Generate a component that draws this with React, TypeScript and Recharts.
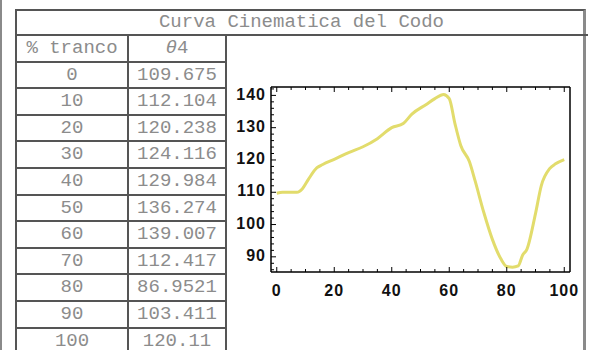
import { LineChart, Line, XAxis, YAxis } from "recharts";

// table columns
const TRANCO = [0, 10, 20, 30, 40, 50, 60, 70, 80, 90, 100];
const THETA4 = [
  "109.675", "112.104", "120.238", "124.116", "129.984", "136.274",
  "139.007", "112.417", "86.9521", "103.411", "120.11",
];

// curve
const CURVE_X = [
  0, 2, 5, 7, 9, 11, 14, 16, 20, 25, 30, 35, 40, 44, 47, 52, 55, 58, 60,
  62, 64, 67, 69, 72, 75, 78, 80, 82, 84, 85.5, 87, 90, 92, 95, 97, 100,
];
const CURVE_Y = [
  109.7, 110.0, 110.0, 110.0, 111.2, 114.0, 117.6, 118.6, 120.2, 122.3,
  124.1, 126.6, 130.0, 131.3, 134.2, 137.2, 139.0, 140.3, 139.0, 131.2,
  124.5, 119.5, 113.5, 103.8, 95.4, 89.3, 87.0, 86.8, 87.2, 90.5, 92.3,
  103.4, 112.0, 117.4, 118.8, 120.1,
];

const X_LABELS = [0, 20, 40, 60, 80, 100];
const Y_LABELS = [90, 100, 110, 120, 130, 140];
const X_TICKS = [0, 5, 10, 15, 20, 25, 30, 35, 40, 45, 50, 55, 60, 65, 70, 75, 80, 85, 90, 95, 100];
const Y_TICKS = [86, 88, 90, 92, 94, 96, 98, 100, 102, 104, 106, 108, 110, 112, 114, 116, 118, 120, 122, 124, 126, 128, 130, 132, 134, 136, 138, 140, 142];

const data = CURVE_X.map((x, i) => ({ x, y: CURVE_Y[i] }));

const MONO = "'Liberation Mono', 'Courier New', monospace";
const SANS = "'Liberation Sans', Arial, sans-serif";
const ROW_H = 26.6;

function BottomTick(props: any) {
  const { x, y, payload } = props;
  const major = X_LABELS.includes(payload.value);
  return (
    <g>
      <line x1={x} x2={x} y1={y} y2={y - (major ? 5 : 3)} stroke="#000" strokeWidth={1} />
      {major && (
        <text x={x} y={y + 20} textAnchor="middle" dominantBaseline="middle"
          fontFamily={SANS} fontWeight="bold" fontSize={16} letterSpacing={1} fill="#111">
          {payload.value}
        </text>
      )}
    </g>
  );
}

function TopTick(props: any) {
  const { x, y, payload } = props;
  const major = X_LABELS.includes(payload.value);
  return <line x1={x} x2={x} y1={y} y2={y + (major ? 5 : 3)} stroke="#000" strokeWidth={1} />;
}

function LeftTick(props: any) {
  const { x, y, payload } = props;
  const major = Y_LABELS.includes(payload.value);
  return (
    <g>
      <line x1={x} x2={x + (major ? 5 : 3)} y1={y} y2={y} stroke="#000" strokeWidth={1} />
      {major && (
        <text x={x - 5} y={y} textAnchor="end" dominantBaseline="middle"
          fontFamily={SANS} fontWeight="bold" fontSize={16} letterSpacing={1} fill="#111">
          {payload.value}
        </text>
      )}
    </g>
  );
}

function RightTick(props: any) {
  const { x, y, payload } = props;
  const major = Y_LABELS.includes(payload.value);
  return <line x1={x} x2={x - (major ? 5 : 3)} y1={y} y2={y} stroke="#000" strokeWidth={1} />;
}

const cellText: React.CSSProperties = {
  position: "absolute",
  fontFamily: MONO,
  fontSize: 19,
  color: "#8c8c8c",
  textAlign: "center",
  whiteSpace: "nowrap",
};

export default function App() {
  const rows = [{ a: "% tranco", b: "θ4" }].concat(
    TRANCO.map((t, i) => ({ a: String(t), b: THETA4[i] }))
  );
  return (
    <div style={{ position: "absolute", left: 0, top: 0, width: 594, height: 350, overflow: "hidden", background: "#fff" }}>
      {/* outer left rule */}
      <div style={{ position: "absolute", left: 0, top: 0, width: 2, height: 350, background: "#8a8a8a" }} />
      {/* table frame */}
      <div style={{ position: "absolute", left: 15, top: 9, width: 571, height: 360, borderLeft: "2px solid #555", borderTop: "2px solid #555", borderRight: "3px solid #8a8a8a", boxSizing: "border-box" }} />
      <div style={{ ...cellText, left: 15, top: 9, width: 573, height: 26, lineHeight: "27px" }}>
        Curva Cinematica del Codo
      </div>
      <div style={{ position: "absolute", left: 15, top: 34, width: 573, height: 2, background: "#555" }} />
      {/* column rules */}
      <div style={{ position: "absolute", left: 127, top: 35, width: 2, height: 320, background: "#555" }} />
      <div style={{ position: "absolute", left: 225, top: 35, width: 2, height: 320, background: "#555" }} />
      {rows.map((r, i) => {
        const top = 35 + i * ROW_H;
        return (
          <div key={i}>
            <div style={{ ...cellText, left: 17, top, width: 110, height: ROW_H, lineHeight: ROW_H + "px" }}>{r.a}</div>
            <div style={{ ...cellText, left: 129, top, width: 96, height: ROW_H, lineHeight: ROW_H + "px" }}>
              {i === 0 ? <span><i>θ</i>4</span> : r.b}
            </div>
            <div style={{ position: "absolute", left: 15, top: top + ROW_H - 1, width: 212, height: 2, background: "#555" }} />
          </div>
        );
      })}
      <div style={{ position: "absolute", left: 226, top: 62 }}>
        <LineChart width={362} height={288} data={data} margin={{ top: 24, right: 17, bottom: 48, left: 5 }}>
          <XAxis xAxisId="b" dataKey="x" type="number" domain={[-2, 102]} ticks={X_TICKS} interval={0}
            height={30} tickSize={0} tickMargin={0} tickLine={false} tick={<BottomTick />}
            axisLine={{ stroke: "#000", strokeWidth: 1.5 }} />
          <XAxis xAxisId="t" orientation="top" dataKey="x" type="number" domain={[-2, 102]} ticks={X_TICKS} interval={0}
            height={1} tickSize={0} tickMargin={0} tickLine={false} tick={<TopTick />}
            axisLine={{ stroke: "#000", strokeWidth: 1.5 }} />
          <YAxis yAxisId="l" type="number" domain={[85.3, 142.6]} ticks={Y_TICKS} interval={0}
            width={40} tickSize={0} tickMargin={0} tickLine={false} tick={<LeftTick />}
            axisLine={{ stroke: "#000", strokeWidth: 1.5 }} />
          <YAxis yAxisId="r" orientation="right" type="number" domain={[85.3, 142.6]} ticks={Y_TICKS} interval={0}
            width={1} tickSize={0} tickMargin={0} tickLine={false} tick={<RightTick />}
            axisLine={{ stroke: "#000", strokeWidth: 1.5 }} />
          <Line xAxisId="b" yAxisId="l" type="monotone" dataKey="y" stroke="#e2dc6c" strokeWidth={3}
            dot={false} isAnimationActive={false} />
        </LineChart>
      </div>
    </div>
  );
}
